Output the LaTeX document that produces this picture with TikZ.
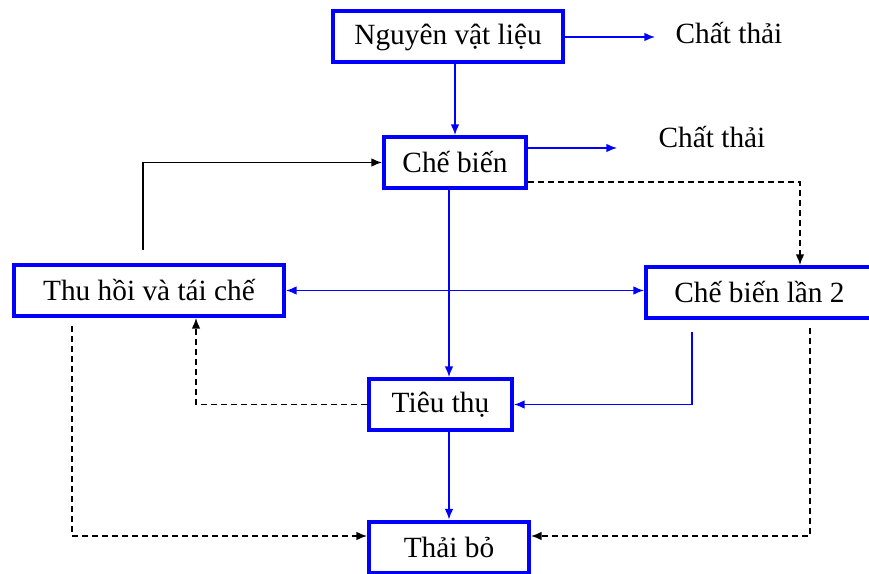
\documentclass[tikz,border=0pt]{standalone}
\usepackage{fontspec}
\setmainfont{Liberation Serif}
\usetikzlibrary{positioning,arrows.meta}
\newcommand{\px}{0.75pt}

\begin{document}
\begin{tikzpicture}[x=0.75pt, y=-0.75pt, >={Latex[length=8pt,width=6.5pt]},
    box/.style={draw=blue, line width=4*\px, fill=white, inner sep=0pt, minimum height=51*\px},
    flow/.style={->, draw=blue, line width=1.5*\px},
    back/.style={->, draw=black, line width=1.5*\px, dash pattern=on 4.5pt off 3pt},
    every node/.style={font=\fontsize{22}{26}\selectfont}]
    \useasboundingbox (0,0) rectangle (869,574);

    \node[box, minimum width=230*\px] (nvl) at (448,37) {Nguyên vật liệu};
    \node[box, minimum width=142*\px] (cb) at (455,162.5) {Chế biến};
    \node[box, minimum width=270*\px] (th) at (149,290.5) {Thu hồi và tái chế};
    \node[box, minimum width=227*\px] (cb2) at (759.5,292.5) {Chế biến lần 2};
    \node[box, minimum width=143*\px] (tt) at (440.5,404.5) {Tiêu thụ};
    \node[box, minimum width=160*\px] (tb) at (449,547) {Thải bỏ};
    \node (ct1) at (729,33) {Chất thải};
    \node (ct2) at (712,137) {Chất thải};
    \coordinate (w1) at (655,37);
    \coordinate (w2) at (617,148);

    % main flow
    \draw[flow] (nvl.east) -- (w1);
    \draw[flow] ([yshift=14.5*\px]cb.east) -- (w2);
    \draw[flow] (nvl.south -| cb.north) -- (cb.north);
    \draw[flow] (cb.south -| tb.north) -- (tt.north -| tb.north);
    \draw[flow] (tt.south -| tb.north) -- (tb.north);
    \draw[flow, <->] (th.east) -- (th.east -| cb2.west);
    \draw[flow] ([xshift=-67.5*\px, yshift=-12*\px]cb2.south) |- (tt.east);
    \draw[->, line width=1.5*\px] ([xshift=-6*\px, yshift=13*\px]th.north) |- (cb.west);

    % dashed
    \draw[back] ([yshift=-19.5*\px]cb.east) -| ([xshift=40.5*\px]cb2.north);
    \draw[back] (tt.west) -| ([xshift=47*\px]th.south);
    \draw[back] ([xshift=-77*\px, yshift=-8*\px]th.south) |- ([yshift=11*\px]tb.west);
    \draw[back] ([xshift=50.5*\px, yshift=-8*\px]cb2.south) |- ([yshift=11*\px]tb.east);
\end{tikzpicture}
\end{document}
